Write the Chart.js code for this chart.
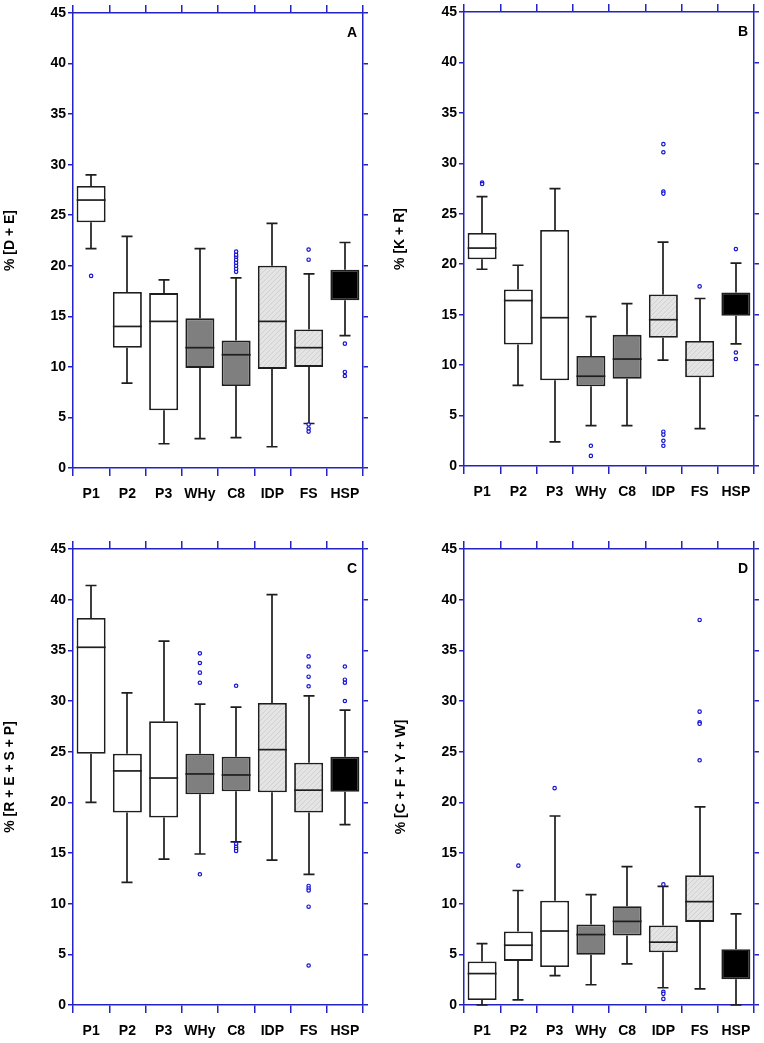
<!DOCTYPE html>
<html><head><meta charset="utf-8">
<script src="https://cdn.jsdelivr.net/npm/chart.js@4.4.0/dist/chart.umd.min.js"></script>
<style>
body{margin:0;background:#fff;width:764px;height:1043px;position:relative;overflow:hidden}
.p{position:absolute}
</style></head><body>
<div class="p" style="left:0;top:0"><canvas id="cA" width="382" height="521"></canvas></div>
<div class="p" style="left:382px;top:0"><canvas id="cB" width="382" height="521"></canvas></div>
<div class="p" style="left:0;top:521px"><canvas id="cC" width="382" height="522"></canvas></div>
<div class="p" style="left:382px;top:521px"><canvas id="cD" width="382" height="522"></canvas></div>
<script>
// ---------- data ----------
const categories = ['P1','P2','P3','WHy','C8','IDP','FS','HSP'];
const yMin = 0, yMax = 45, yStep = 5;

// Panel A: % [D + E]
const lowA  = [21.7, 8.4, 2.4, 2.9, 3.0, 2.1, 4.4, 13.1];
const q1A   = [24.3, 11.9, 5.7, 9.9, 8.1, 9.8, 10.0, 16.6];
const medA  = [26.5, 14.0, 14.5, 11.9, 11.2, 14.5, 11.9, 18.0];
const q3A   = [27.9, 17.4, 17.3, 14.8, 12.6, 20.0, 13.7, 19.6];
const highA = [29.0, 22.9, 18.6, 21.7, 18.8, 24.2, 19.2, 22.3];
const outA  = [['P1',19.0],['C8',19.4],['C8',19.7],['C8',20.0],['C8',20.3],['C8',20.6],['C8',20.9],['C8',21.1],['C8',21.4],
               ['FS',21.6],['FS',20.6],['FS',4.3],['FS',3.9],['FS',3.6],['HSP',12.3],['HSP',9.5],['HSP',9.1]];

// Panel B: % [K + R]
const lowB  = [19.5, 8.0, 2.4, 4.0, 4.0, 10.5, 3.7, 12.1];
const q1B   = [20.5, 12.05, 8.5, 7.9, 8.65, 12.7, 8.8, 14.9];
const medB  = [21.6, 16.4, 14.7, 8.9, 10.6, 14.5, 10.5, 16.0];
const q3B   = [23.1, 17.5, 23.4, 10.9, 13.0, 17.0, 12.4, 17.2];
const highB = [26.7, 19.9, 27.5, 14.8, 16.1, 22.2, 16.6, 20.1];
const outB  = [['P1',28.1],['P1',27.95],['WHy',2.0],['WHy',1.0],['IDP',31.9],['IDP',31.1],['IDP',27.2],['IDP',27.0],
               ['IDP',3.4],['IDP',3.1],['IDP',2.5],['IDP',2.0],['FS',17.8],['HSP',21.5],['HSP',11.25],['HSP',10.6]];

// Panel C: % [R + E + S + P]
const lowC  = [20.0, 12.1, 14.4, 14.9, 16.1, 14.3, 12.9, 17.8];
const q1C   = [24.8, 19.0, 18.5, 20.8, 21.1, 21.0, 19.0, 21.05];
const medC  = [35.3, 23.1, 22.4, 22.8, 22.7, 25.2, 21.2, 22.5];
const q3C   = [38.2, 24.8, 28.0, 24.8, 24.5, 29.8, 23.9, 24.5];
const highC = [41.4, 30.8, 35.9, 29.7, 29.4, 40.5, 30.5, 29.1];
const outC  = [['WHy',34.7],['WHy',33.75],['WHy',32.8],['WHy',31.8],['WHy',12.9],
               ['C8',31.5],['C8',15.9],['C8',15.6],['C8',15.4],['C8',15.2],
               ['FS',34.4],['FS',33.4],['FS',32.4],['FS',31.45],['FS',11.75],['FS',11.5],['FS',11.3],['FS',9.7],['FS',3.9],
               ['HSP',33.4],['HSP',32.1],['HSP',31.8],['HSP',30.0]];

// Panel D: % [C + F + Y + W]
const lowD  = [0.0, 0.5, 2.9, 2.0, 4.05, 1.7, 1.6, 0.0];
const q1D   = [0.5, 4.35, 3.75, 4.95, 6.85, 5.2, 8.2, 2.55];
const medD  = [3.1, 5.9, 7.3, 6.95, 8.25, 6.2, 10.2, 4.0];
const q3D   = [4.3, 7.25, 10.3, 7.95, 9.75, 7.85, 12.8, 5.5];
const highD = [6.05, 11.3, 18.65, 10.9, 13.65, 11.7, 19.55, 9.0];
const outD  = [['P2',13.75],['P3',21.4],['IDP',11.9],['IDP',1.3],['IDP',1.1],['IDP',0.6],
               ['FS',38.0],['FS',28.95],['FS',27.9],['FS',27.75],['FS',24.15]];

// ---------- styling ----------
const FONT = '"Liberation Sans", Arial, Helvetica, sans-serif';
const AXIS = '#2323c3';
const LINE = '#1e1e1e';
const OUTC = '#1414d2';

function hatch(){
  const c = document.createElement('canvas'); c.width = 5; c.height = 5;
  const g = c.getContext('2d');
  g.fillStyle = '#e4e4e4'; g.fillRect(0,0,5,5);
  g.strokeStyle = '#c9c9c9'; g.lineWidth = 0.7;
  g.beginPath();
  g.moveTo(0,5); g.lineTo(5,0);
  g.moveTo(-1,1); g.lineTo(1,-1);
  g.moveTo(4,6); g.lineTo(6,4);
  g.stroke();
  return g.createPattern(c,'repeat');
}
const HATCH = hatch();
const fills = ['#ffffff','#ffffff','#ffffff','#7f7f7f','#7f7f7f',HATCH,HATCH,'#000000'];

const boxPlugin = {
  id: 'boxparts',
  beforeDatasetsDraw(chart){
    const o = chart.options.plugins.boxparts;
    const x = chart.scales.x, y = chart.scales.y, ctx = chart.ctx;
    ctx.save();
    ctx.strokeStyle = LINE; ctx.lineWidth = 1.7; ctx.lineCap = 'butt';
    o.low.forEach((lo, i) => {
      const cx = Math.round(x.getPixelForValue(i));
      const pl = y.getPixelForValue(lo), p1 = y.getPixelForValue(o.q1[i]);
      const p3 = y.getPixelForValue(o.q3[i]), ph = y.getPixelForValue(o.high[i]);
      ctx.beginPath();
      ctx.moveTo(cx, pl); ctx.lineTo(cx, p1);
      ctx.moveTo(cx, p3); ctx.lineTo(cx, ph);
      ctx.moveTo(cx-5.5, pl); ctx.lineTo(cx+5.5, pl);
      ctx.moveTo(cx-5.5, ph); ctx.lineTo(cx+5.5, ph);
      ctx.stroke();
    });
    ctx.restore();
  },
  afterDatasetsDraw(chart){
    const o = chart.options.plugins.boxparts;
    const y = chart.scales.y, ctx = chart.ctx;
    const meta = chart.getDatasetMeta(1);
    ctx.save();
    ctx.lineWidth = 1.7;
    ctx.strokeStyle = LINE;
    o.med.forEach((m, i) => {
      if (fills[i] === '#000000') return; // median hidden inside solid black box
      const bar = meta.data[i];
      const pm = y.getPixelForValue(m);
      ctx.beginPath();
      ctx.moveTo(bar.x - bar.width/2, pm); ctx.lineTo(bar.x + bar.width/2, pm);
      ctx.stroke();
    });
    // panel letter
    ctx.fillStyle = '#000';
    ctx.font = 'bold 14px ' + FONT;
    ctx.textAlign = 'right'; ctx.textBaseline = 'alphabetic';
    ctx.fillText(o.letter, chart.chartArea.right - 6, chart.chartArea.top + 24);
    ctx.restore();
  }
};

function makeChart(id, title, low, q1, med, q3, high, outs, letter, box){
  const [left, right, top, bottom, W, H, titlePad] = box;
  new Chart(document.getElementById(id), {
    data: {
      labels: categories,
      datasets: [
        { type: 'line', order: 0, showLine: false,
          data: outs.map(o => ({x: o[0], y: o[1]})),
          pointRadius: 1.7, pointHoverRadius: 1.7, pointBorderWidth: 1.2,
          pointBorderColor: OUTC, pointBackgroundColor: '#ffffff' },
        { type: 'bar', order: 1,
          data: q1.map((v, i) => [v, q3[i]]),
          backgroundColor: fills, borderColor: LINE, borderWidth: 1.8,
          borderSkipped: false, barPercentage: 0.8, categoryPercentage: 1.0 }
      ]
    },
    options: {
      responsive: false, animation: false, devicePixelRatio: 1,
      layout: { padding: 0 },
      plugins: {
        legend: { display: false }, tooltip: { enabled: false },
        boxparts: { low, q1, med, q3, high, letter }
      },
      scales: {
        x: { type: 'category', position: 'bottom', offset: true,
             grid: { offset: true, drawOnChartArea: false, drawTicks: true, tickLength: 8, color: AXIS, lineWidth: 1.5 },
             border: { color: AXIS, width: 1.5 },
             ticks: { color: '#000', font: { family: FONT, size: 14, weight: 'bold' }, padding: 10, maxRotation: 0, autoSkip: false },
             afterFit: s => { s.height = H - bottom; } },
        x2: { type: 'category', position: 'top', offset: true, labels: categories,
             grid: { offset: true, drawOnChartArea: false, drawTicks: true, tickLength: 8, color: AXIS, lineWidth: 1.5 },
             border: { color: AXIS, width: 1.5 },
             ticks: { display: false },
             afterFit: s => { s.height = top; } },
        y: { type: 'linear', position: 'left', min: yMin, max: yMax,
             grid: { drawOnChartArea: false, drawTicks: true, tickLength: 5, color: AXIS, lineWidth: 1.5 },
             border: { color: AXIS, width: 1.5 },
             ticks: { stepSize: yStep, color: '#000', font: { family: FONT, size: 14, weight: 'bold' }, padding: 2 },
             title: { display: true, text: title, color: '#000', font: { family: FONT, size: 14, weight: 'bold' }, padding: { top: titlePad, bottom: 0 } },
             afterFit: s => { s.width = left; } },
        y2: { type: 'linear', position: 'right', min: yMin, max: yMax,
             grid: { drawOnChartArea: false, drawTicks: true, tickLength: 5, color: AXIS, lineWidth: 1.5 },
             border: { color: AXIS, width: 1.5 },
             ticks: { stepSize: yStep, display: false },
             afterFit: s => { s.width = W - right; } }
      }
    },
    plugins: [boxPlugin]
  });
}

makeChart('cA', '% [D + E]', lowA, q1A, medA, q3A, highA, outA, 'A', [73, 363, 13, 468, 382, 521, 2]);
makeChart('cB', '% [K + R]', lowB, q1B, medB, q3B, highB, outB, 'B', [82, 372, 12, 466, 382, 521, 10]);
makeChart('cC', '% [R + E + S + P]', lowC, q1C, medC, q3C, highC, outC, 'C', [73, 363, 28, 484, 382, 522, 2]);
makeChart('cD', '% [C + F + Y + W]', lowD, q1D, medD, q3D, highD, outD, 'D', [82, 372, 28, 484, 382, 522, 11]);
</script>
</body></html>
